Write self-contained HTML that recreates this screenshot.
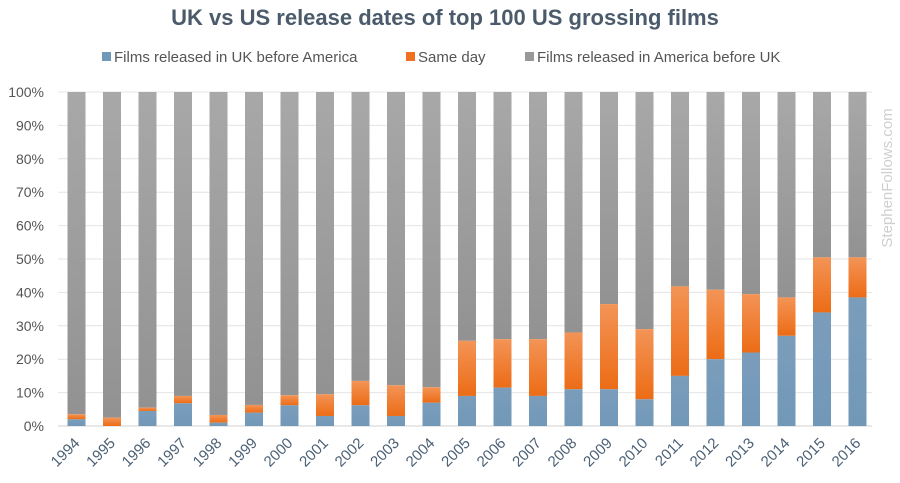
<!DOCTYPE html>
<html><head><meta charset="utf-8"><style>
html,body{margin:0;padding:0;background:#fff;}
svg{display:block;font-family:"Liberation Sans",sans-serif;}
</style></head><body>
<svg id="chart" width="900" height="483">
<defs>
<linearGradient id="gb" x1="0" y1="0" x2="0" y2="1"><stop offset="0" stop-color="#7a9dbb"/><stop offset="1" stop-color="#7298b8"/></linearGradient>
<linearGradient id="go" x1="0" y1="0" x2="0" y2="1"><stop offset="0" stop-color="#f39456"/><stop offset="1" stop-color="#ec6c16"/></linearGradient>
<linearGradient id="gg" x1="0" y1="0" x2="0" y2="1"><stop offset="0" stop-color="#a8a8a8"/><stop offset="1" stop-color="#929292"/></linearGradient>
</defs>
<text x="445" y="25" text-anchor="middle" font-size="22" font-weight="bold" fill="#4b5b6b">UK vs US release dates of top 100 US grossing films</text>
<g>
<rect x="102" y="52" width="9" height="9" fill="#7298b8"/>
<text x="114" y="62" font-size="15" fill="#555">Films released in UK before America</text>
<rect x="406" y="52" width="9" height="9" fill="#ee7020"/>
<text x="418" y="62" font-size="15" fill="#555">Same day</text>
<rect x="525" y="52" width="9" height="9" fill="#999"/>
<text x="537" y="62" font-size="15" fill="#555">Films released in America before UK</text>
</g>
<g id="grid"></g><g id="bars"></g><g id="xlab"></g>
<text transform="translate(892,178) rotate(-90)" text-anchor="middle" font-size="15" fill="#cfcfcf">StephenFollows.com</text>
</svg>
<script>
const years=["1994","1995","1996","1997","1998","1999","2000","2001","2002","2003","2004","2005","2006","2007","2008","2009","2010","2011","2012","2013","2014","2015","2016"];
const ukFirst=[2,0,4.5,6.8,1,4,6.2,3,6.2,3,7,9,11.5,9,11,11,8,15,20,22,27,34,38.5];
const sameDay=[1.5,2.5,1,2.2,2.3,2.3,3,6.5,7.3,9.2,4.6,16.5,14.5,17,17,25.5,21,26.8,20.8,17.5,11.5,16.5,12];
const yTicks=[0,10,20,30,40,50,60,70,80,90,100];
const ns="http://www.w3.org/2000/svg";
const y0=426,y1=92,xL=58,xR=872,cx0=76.5,step=35.5,bw=18;
const ys=v=>y0-(v/100)*(y0-y1);
const xs=i=>cx0+i*step;
function mk(t,a,p){const e=document.createElementNS(ns,t);for(const k in a)e.setAttribute(k,a[k]);p.appendChild(e);return e;}
const grid=document.getElementById('grid');
yTicks.forEach(v=>{
 const l=mk('line',{x1:xL,x2:xR,y1:ys(v),y2:ys(v),stroke:v===0?'#d0d0d0':'#e4e4e4','stroke-width':1},grid);
 
 
 const t=mk('text',{x:44,y:ys(v)+5,'text-anchor':'end','font-size':14,fill:'#555'},grid);
 t.textContent=v+'%';
 
 
});
const bars=document.getElementById('bars'),xl=document.getElementById('xlab');
years.forEach((yr,i)=>{
 const x=xs(i)-bw/2,b=ukFirst[i],s=sameDay[i];
 const g=mk('rect',{x:x,y:ys(100),width:bw,height:ys(b+s)-ys(100),fill:'url(#gg)'},bars);
 
 
 const o=mk('rect',{x:x,y:ys(b+s),width:bw,height:ys(b)-ys(b+s),fill:'url(#go)'},bars);
 
 
 const u=mk('rect',{x:x,y:ys(b),width:bw,height:ys(0)-ys(b),fill:'url(#gb)'},bars);
 
 
 const t=mk('text',{'text-anchor':'end','font-size':15,fill:'#4b6075',transform:'translate('+(xs(i)+4)+',444) rotate(-45)'},xl);
 t.textContent=yr;
 
 
});
</script>
</body></html>
